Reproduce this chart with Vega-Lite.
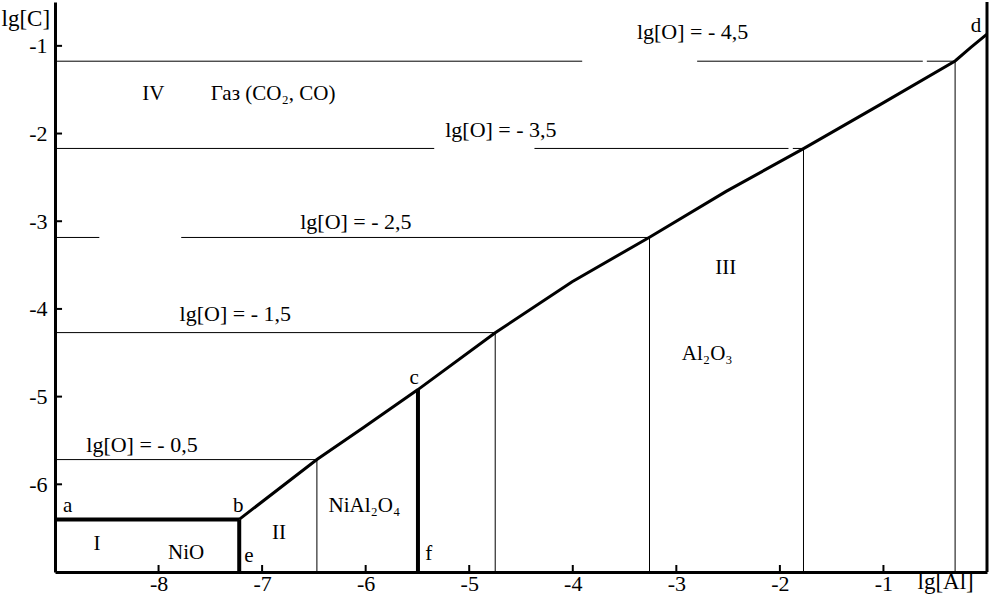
{
  "$schema": "https://vega.github.io/schema/vega-lite/v6.json",
  "width": 932,
  "height": 570,
  "autosize": {"type": "none"},
  "padding": {"left": 55, "top": 2, "right": 2, "bottom": 31},
  "background": "white",
  "config": {
    "view": {"stroke": null},
    "font": "Liberation Serif, Times New Roman, serif",
    "axis": {
      "grid": false,
      "domainColor": "black",
      "domainWidth": 3,
      "ticks": false,
      "labelColor": "black",
      "labelFont": "Liberation Serif, Times New Roman, serif",
      "labelFontSize": 22,
      "titleFont": "Liberation Serif, Times New Roman, serif",
      "titleFontSize": 23,
      "titleFontWeight": "normal",
      "titleColor": "black"
    }
  },
  "datasets": {
    "curve": [
      {"x": -7.221, "y": -6.40},
      {"x": -6.471, "y": -5.718},
      {"x": -6.024, "y": -5.355},
      {"x": -5.495, "y": -4.920},
      {"x": -4.749, "y": -4.272},
      {"x": -4.006, "y": -3.690},
      {"x": -3.259, "y": -3.182},
      {"x": -2.519, "y": -2.660},
      {"x": -1.772, "y": -2.172},
      {"x": -1.032, "y": -1.670},
      {"x": -0.308, "y": -1.172},
      {"x": -0.153, "y": -1.015},
      {"x": 0.0, "y": -0.867}
    ],
    "thin": [
      {"x": -9, "x2": -3.909, "y": -1.175, "y2": -1.175},
      {"x": -2.799, "x2": -0.620, "y": -1.175, "y2": -1.175},
      {"x": -0.581, "x2": -0.308, "y": -1.175, "y2": -1.175},
      {"x": -9, "x2": -5.338, "y": -2.170, "y2": -2.170},
      {"x": -4.370, "x2": -1.917, "y": -2.170, "y2": -2.170},
      {"x": -1.875, "x2": -1.772, "y": -2.170, "y2": -2.170},
      {"x": -9, "x2": -8.572, "y": -3.185, "y2": -3.185},
      {"x": -7.781, "x2": -3.259, "y": -3.185, "y2": -3.185},
      {"x": -9, "x2": -4.749, "y": -4.270, "y2": -4.270},
      {"x": -9, "x2": -6.471, "y": -5.718, "y2": -5.718},
      {"x": -6.471, "x2": -6.471, "y": -5.718, "y2": -7},
      {"x": -4.749, "x2": -4.749, "y": -4.272, "y2": -7},
      {"x": -3.259, "x2": -3.259, "y": -3.182, "y2": -7},
      {"x": -1.772, "x2": -1.772, "y": -2.172, "y2": -7},
      {"x": -0.308, "x2": -0.308, "y": -1.172, "y2": -7}
    ],
    "thick": [
      {"x": -9, "x2": -7.221, "y": -6.40, "y2": -6.40},
      {"x": -7.221, "x2": -7.221, "y": -6.40, "y2": -7},
      {"x": -5.495, "x2": -5.495, "y": -4.920, "y2": -7}
    ],
    "border": [{"x": 0}],
    "xticks": [{"v": -8}, {"v": -7}, {"v": -6}, {"v": -5}, {"v": -4}, {"v": -3}, {"v": -2}, {"v": -1}],
    "yticks": [{"v": -6}, {"v": -5}, {"v": -4}, {"v": -3}, {"v": -2}, {"v": -1}],
    "labels": [
      {"x": -3.381, "y": -0.924, "text": "lg[O] = - 4,5"},
      {"x": -5.232, "y": -2.045, "text": "lg[O] = - 3,5"},
      {"x": -6.632, "y": -3.094, "text": "lg[O] = - 2,5"},
      {"x": -7.797, "y": -4.141, "text": "lg[O] = - 1,5"},
      {"x": -8.698, "y": -5.632, "text": "lg[O] = - 0,5"}
    ],
    "regions": [
      {"x": -8.157, "y": -1.619, "text": "IV"},
      {"x": -7.496, "y": -1.619, "text": "Газ (CO₂, CO)"},
      {"x": -2.625, "y": -3.597, "text": "III"},
      {"x": -2.947, "y": -4.585, "text": "Al₂O₃"},
      {"x": -6.359, "y": -6.316, "text": "NiAl₂O₄"},
      {"x": -6.905, "y": -6.619, "text": "II"},
      {"x": -8.628, "y": -6.753, "text": "I"},
      {"x": -7.909, "y": -6.848, "text": "NiO"},
      {"x": -8.923, "y": -6.316, "text": "a"},
      {"x": -7.282, "y": -6.316, "text": "b"},
      {"x": -5.577, "y": -4.851, "text": "c"},
      {"x": -0.156, "y": -0.840, "text": "d"},
      {"x": -7.172, "y": -6.886, "text": "e"},
      {"x": -5.425, "y": -6.867, "text": "f"}
    ]
  },
  "layer": [
    {
      "data": {"name": "thin"},
      "mark": {"type": "rule", "color": "black", "strokeWidth": 1},
      "encoding": {
        "x": {"field": "x", "type": "quantitative", "scale": {"domain": [-9, 0], "nice": false, "zero": false},
          "axis": {"values": [-8, -7, -6, -5, -4, -3, -2, -1], "labelExpr": "'-' + abs(datum.value)", "labelBaseline": "alphabetic", "labelPadding": 18,
            "title": "lg[Al]", "titleAlign": "left", "titleBaseline": "alphabetic", "titleAnchor": "start", "titleX": 862, "titleY": 16}},
        "x2": {"field": "x2"},
        "y": {"field": "y", "type": "quantitative", "scale": {"domain": [-7, -0.5], "nice": false, "zero": false},
          "axis": {"values": [-6, -5, -4, -3, -2, -1], "labelExpr": "'-' + abs(datum.value)", "labelPadding": 8, "labelBaseline": "middle",
            "title": "lg[C]", "titleAngle": 0, "titleAlign": "left", "titleBaseline": "alphabetic", "titleAnchor": "start", "titleX": -54, "titleY": 23}},
        "y2": {"field": "y2"}
      }
    },
    {
      "data": {"name": "thick"},
      "mark": {"type": "rule", "color": "black", "strokeWidth": 4},
      "encoding": {
        "x": {"field": "x", "type": "quantitative"},
        "x2": {"field": "x2"},
        "y": {"field": "y", "type": "quantitative"},
        "y2": {"field": "y2"}
      }
    },
    {
      "data": {"name": "curve"},
      "mark": {"type": "line", "color": "black", "strokeWidth": 3, "interpolate": "linear"},
      "encoding": {
        "x": {"field": "x", "type": "quantitative"},
        "y": {"field": "y", "type": "quantitative"}
      }
    },
    {
      "data": {"name": "border"},
      "mark": {"type": "rule", "color": "black", "strokeWidth": 3},
      "encoding": {"x": {"field": "x", "type": "quantitative"}}
    },
    {
      "data": {"name": "xticks"},
      "mark": {"type": "rule", "color": "black", "strokeWidth": 2},
      "encoding": {
        "x": {"field": "v", "type": "quantitative"},
        "y": {"datum": -7},
        "y2": {"datum": -6.92}
      }
    },
    {
      "data": {"name": "yticks"},
      "mark": {"type": "rule", "color": "black", "strokeWidth": 2},
      "encoding": {
        "y": {"field": "v", "type": "quantitative"},
        "x": {"datum": -9},
        "x2": {"datum": -8.932}
      }
    },
    {
      "data": {"name": "labels"},
      "mark": {"type": "text", "align": "left", "baseline": "alphabetic", "font": "Liberation Serif, Times New Roman, serif", "fontSize": 22, "color": "black"},
      "encoding": {
        "x": {"field": "x", "type": "quantitative"},
        "y": {"field": "y", "type": "quantitative"},
        "text": {"field": "text"}
      }
    },
    {
      "data": {"name": "regions"},
      "mark": {"type": "text", "align": "left", "baseline": "alphabetic", "font": "Liberation Serif, Times New Roman, serif", "fontSize": 21, "color": "black"},
      "encoding": {
        "x": {"field": "x", "type": "quantitative"},
        "y": {"field": "y", "type": "quantitative"},
        "text": {"field": "text"}
      }
    }
  ]
}
